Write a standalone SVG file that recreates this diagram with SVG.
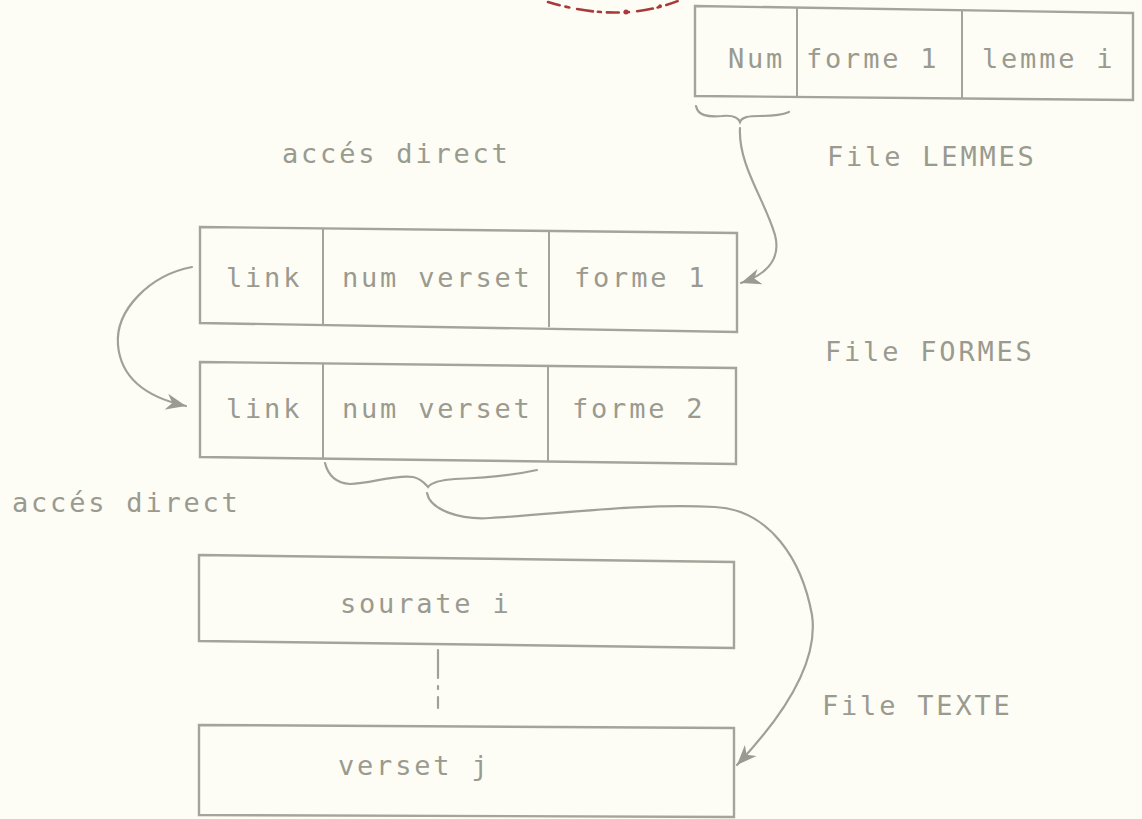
<svg xmlns="http://www.w3.org/2000/svg" width="1142" height="819" viewBox="0 0 1142 819">
<style>
.box{fill:none;stroke:#a4a49a;stroke-width:2.4;stroke-linejoin:miter}
.div{fill:none;stroke:#a4a49a;stroke-width:2}
.t{font-family:"DejaVu Sans Mono","Liberation Mono",monospace;font-size:27px;letter-spacing:2.8px;fill:#9a9a8f}
.c{fill:none;stroke:#a0a096;stroke-width:2.2;stroke-linecap:round}
.stamp{fill:none;stroke:#a83a3a;stroke-width:2.6;stroke-linecap:round}
</style>
<defs>
<marker id="ah" markerUnits="userSpaceOnUse" markerWidth="22" markerHeight="18" viewBox="0 0 22 18" refX="20" refY="9" orient="auto">
<path d="M0,1 L20,9 L0,17 L6,9 Z" fill="#9a9a90"/>
</marker>
</defs>
<rect width="1142" height="819" fill="#fdfdf6"/>
<g id="stamp">
<path class="stamp" d="M548,2 C575,10 600,14 630,12 C650,10 665,6 678,1" stroke-dasharray="12 6 4 8 16 5 3 6"/>
<circle cx="626" cy="12" r="2.5" fill="#a83a3a"/>
<circle cx="660" cy="6" r="1.8" fill="#a83a3a"/>
</g>
<g id="connectors">
<path class="c" d="M696,106 C698,116 708,117 722,116 C732,115 738,117 740,122 C742,117 748,116 760,116 C772,116 782,115 789,112"/>
<path class="c" d="M740,128 C738,165 765,200 775,235 C782,262 762,276 741,283" marker-end="url(#ah)"/>
<path class="c" d="M192,267 C150,275 115,310 118,345 C121,380 150,398 186,406" marker-end="url(#ah)"/>
<path class="c" d="M325,463 C328,475 335,483 350,484 C370,484 395,474 413,477 C422,479 425,484 428,487 C432,482 440,480 455,479 C480,478 510,476 537,470"/>
<path class="c" d="M427,493 C430,510 460,520 490,518 C560,514 640,503 715,507 C770,510 802,560 812,615 C820,670 770,730 737,765" marker-end="url(#ah)"/>
<path class="c" d="M438,650 L438,708" stroke-dasharray="28 8 3 8"/>
</g>
<g id="lemmes">
<path class="box" d="M695,6 L1133,13 L1133,100 L695,96 Z"/>
<path class="div" d="M797,8 L797,97 M962,10 L962,98"/>
<text class="t" x="728" y="68">Num</text>
<text class="t" x="806" y="68">forme 1</text>
<text class="t" x="982" y="68">lemme i</text>
</g>
<text id="acces1" class="t" x="282" y="163">accés direct</text>
<text id="file-lemmes" class="t" x="827" y="166">File LEMMES</text>
<g id="formes1">
<path class="box" d="M200,227 L737,233 L737,332 L200,323 Z"/>
<path class="div" d="M323,228 L323,324 M549,230 L549,327"/>
<text class="t" x="226" y="287">link</text>
<text class="t" x="342" y="287">num verset</text>
<text class="t" x="574" y="287">forme 1</text>
</g>
<text id="file-formes" class="t" x="825" y="361">File FORMES</text>
<g id="formes2">
<path class="box" d="M200,362 L736,368 L736,464 L200,457 Z"/>
<path class="div" d="M323,363 L323,458 M548,365 L548,461"/>
<text class="t" x="226" y="418">link</text>
<text class="t" x="342" y="418">num verset</text>
<text class="t" x="572" y="418">forme 2</text>
</g>
<text id="acces2" class="t" x="12" y="512">accés direct</text>
<g id="sourate">
<path class="box" d="M199,555 L734,562 L734,648 L199,641 Z"/>
<text class="t" x="340" y="613">sourate i</text>
</g>
<text id="file-texte" class="t" x="822" y="715">File TEXTE</text>
<g id="verset">
<path class="box" d="M199,725 L734,728 L734,817 L199,815 Z"/>
<text class="t" x="338" y="775">verset j</text>
</g>
</svg>
